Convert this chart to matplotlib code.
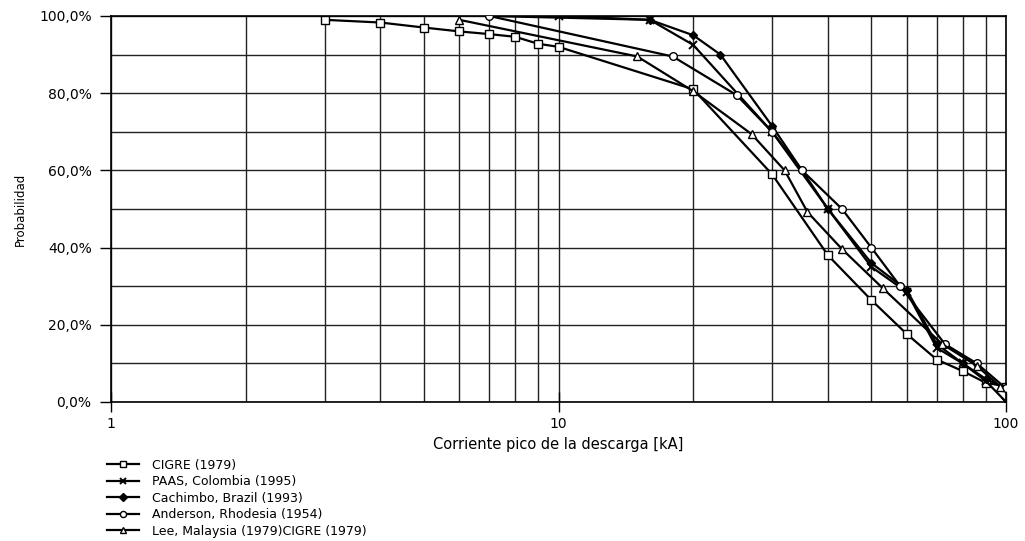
import numpy as np
import matplotlib.pyplot as plt
from matplotlib.ticker import FixedLocator, NullFormatter

plt.rcParams['font.family'] = ['DejaVu Sans']

# CIGRE (1979)
cigre_x = [3, 4, 5, 6, 7, 8, 9, 10, 20, 30, 40, 50, 60, 70, 80, 90, 100]
cigre_y = [99, 98.3, 97, 96, 95.3, 94.6, 92.8, 92, 81, 59, 38, 26.4, 17.6, 11, 8, 5, 4]

# PAAS, Colombia (1995)
paas_x = [10, 16, 20, 30, 40, 50, 60, 70, 80, 90, 100]
paas_y = [100, 99, 92.5, 70, 50, 35, 28.5, 14, 10, 5.5, 0]

# Cachimbo, Brazil (1993)
cach_x = [7, 16, 20, 23, 30, 35, 40, 50, 60, 70, 80, 90, 100]
cach_y = [100, 99, 95, 90, 71.5, 60, 50, 36, 29, 15, 10, 6, 3.5]

# Anderson, Rhodesia (1954)
ander_x = [7, 18, 25, 30, 35, 43, 50, 58, 73, 86, 100]
ander_y = [100, 89.5, 79.5, 70, 60, 50, 40, 30, 15, 10, 3.5]

# Lee, Malaysia (1979)
lee_x = [6, 15, 20, 27, 32, 36, 43, 53, 72, 86, 97]
lee_y = [99, 89.5, 80.5, 69.4, 60, 49.2, 39.6, 29.5, 15, 9.4, 4]

labels = ['CIGRE (1979)', 'PAAS, Colombia (1995)', 'Cachimbo, Brazil (1993)',
          'Anderson, Rhodesia (1954)', 'Lee, Malaysia (1979)CIGRE (1979)']

fig = plt.figure(figsize=(10.25, 5.41), dpi=100)
ax = fig.add_axes([0.1083, 0.257, 0.8732, 0.7135])

series = [
    (cigre_x, cigre_y, dict(marker='s', mfc='white', ms=6)),
    (paas_x, paas_y, dict(marker='x', mfc='black', ms=6, mew=1.4)),
    (cach_x, cach_y, dict(marker='D', mfc='black', ms=4.5)),
    (ander_x, ander_y, dict(marker='o', mfc='white', ms=5.5)),
    (lee_x, lee_y, dict(marker='^', mfc='white', ms=6)),
]
for (xs, ys, st), lab in zip(series, labels):
    ax.plot(xs, np.array(ys) / 100, color='black', lw=1.6, mec='black',
            label=lab, zorder=3, **st)

ax.set_xscale('log')
ax.set_xlim(1, 100)
ax.set_ylim(0, 1)

ax.xaxis.set_major_locator(FixedLocator([1, 10, 100]))
ax.set_xticklabels(['1', '10', '100'])
minor_x = [v * d for d in (1, 10) for v in range(2, 10)]
ax.xaxis.set_minor_locator(FixedLocator(minor_x))
ax.xaxis.set_minor_formatter(NullFormatter())

yt = [0, 0.2, 0.4, 0.6, 0.8, 1.0]
ax.set_yticks(yt)
ax.set_yticklabels(['0,0%', '20,0%', '40,0%', '60,0%', '80,0%', '100,0%'])
ax.yaxis.set_minor_locator(FixedLocator([0.1, 0.3, 0.5, 0.7, 0.9]))

ax.grid(True, which='both', color='#222222', lw=1.0)
ax.tick_params(which='major', direction='out', length=7, width=1, labelsize=10, colors='black')
ax.tick_params(which='minor', length=0)
ax.tick_params(axis='y', which='major', length=8, pad=6)
ax.tick_params(axis='x', which='major', direction='inout', length=14)
for s in ax.spines.values():
    s.set_color('black')
    s.set_linewidth(1.2)

ax.set_xlabel('Corriente pico de la descarga [kA]', fontsize=10.5, labelpad=5)
ax.set_ylabel('Probabilidad', fontsize=8.5, labelpad=9)

# legend below the plot, stacked in one column
fig.legend(loc='upper left', bbox_to_anchor=(0.104, 0.152), frameon=False,
           fontsize=9, handlelength=2.6, labelspacing=0.28, handletextpad=1.0,
           borderaxespad=0, borderpad=0, markerscale=0.8)

fig.savefig('out.png', dpi=100)
